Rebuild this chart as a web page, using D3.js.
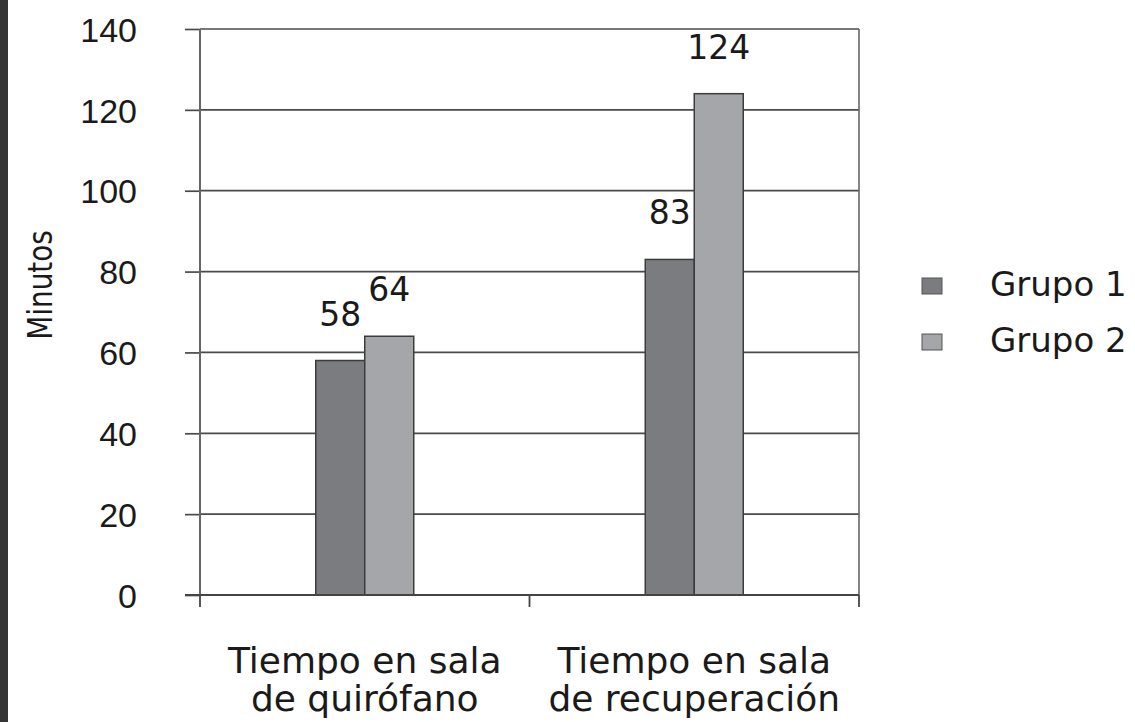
<!DOCTYPE html>
<html>
<head>
<meta charset="utf-8">
<script src="https://cdn.jsdelivr.net/npm/d3@7"></script>
<style>
  body { margin: 0; background: #fff; }
  svg { display: block; font-family: "DejaVu Sans", sans-serif; }
</style>
</head>
<body>
<div id="chart"></div>
<script>
const categories = [["Tiempo en sala", "de quirófano"], ["Tiempo en sala", "de recuperación"]];
const groups = ["Grupo 1", "Grupo 2"];
const grupo1 = [58, 83];
const grupo2 = [64, 124];
const yTicks = [0, 20, 40, 60, 80, 100, 120, 140];
const colors = ["#7b7c80", "#a5a6aa"];

const width = 1135;
const height = 722;
const margin = { top: 29, right: 276, bottom: 127, left: 200 };

const svg = d3.select("#chart").append("svg")
  .attr("width", width)
  .attr("height", height);

// dark strip on the left edge
svg.append("rect").attr("x", 0).attr("y", 0).attr("width", 8).attr("height", height).attr("fill", "#353535");

const x0 = d3.scaleBand()
  .domain(d3.range(categories.length))
  .range([margin.left, width - margin.right])
  .padding(0);

const barW = 49;
const x1 = d3.scaleBand()
  .domain(groups)
  .range([x0.bandwidth() / 2 - barW, x0.bandwidth() / 2 + barW]);

const y = d3.scaleLinear()
  .domain([0, 140])
  .range([height - margin.bottom, margin.top]);

// gridlines + y axis
const yAxis = svg.append("g")
  .attr("transform", `translate(${margin.left},0)`)
  .call(d3.axisLeft(y).tickValues(yTicks).tickSize(15).tickPadding(48).tickSizeOuter(0));
yAxis.select(".domain").remove();
yAxis.selectAll(".tick line").attr("stroke", "#4a4a4a").attr("stroke-width", 1.7);
yAxis.selectAll(".tick text")
  .attr("fill", "#1a1a1a")
  .style("font-size", "34px")
  .attr("dy", "0.36em");

svg.append("g")
  .selectAll("line")
  .data(yTicks)
  .join("line")
  .attr("x1", margin.left)
  .attr("x2", width - margin.right)
  .attr("y1", d => y(d))
  .attr("y2", d => y(d))
  .attr("stroke", "#4a4a4a")
  .attr("stroke-width", 1.7);

// frame left/right
svg.append("line")
  .attr("x1", margin.left).attr("x2", margin.left)
  .attr("y1", y(140)).attr("y2", y(0))
  .attr("stroke", "#666").attr("stroke-width", 2);
svg.append("line")
  .attr("x1", width - margin.right).attr("x2", width - margin.right)
  .attr("y1", y(140)).attr("y2", y(0))
  .attr("stroke", "#666").attr("stroke-width", 1.6);

// bars
const rows = categories.map((c, i) => ({ i, values: [grupo1[i], grupo2[i]] }));

const cat = svg.append("g")
  .selectAll("g")
  .data(rows)
  .join("g")
  .attr("transform", d => `translate(${x0(d.i)},0)`);

cat.selectAll("rect")
  .data(d => d.values.map((v, k) => ({ key: groups[k], k, v })))
  .join("rect")
  .attr("x", d => x1(d.key))
  .attr("y", d => y(d.v))
  .attr("width", x1.bandwidth())
  .attr("height", d => y(0) - y(d.v))
  .attr("fill", d => colors[d.k])
  .attr("stroke", "#3c3c3c")
  .attr("stroke-width", 1.5);

cat.selectAll("text")
  .data(d => d.values.map((v, k) => ({ key: groups[k], k, v })))
  .join("text")
  .attr("x", d => x1(d.key) + x1.bandwidth() / 2)
  .attr("y", d => y(d.v) - 35)
  .attr("text-anchor", "middle")
  .attr("fill", "#1a1a1a")
  .style("font-size", "33px")
  .text(d => d.v);

// x axis
const xAxis = svg.append("g")
  .attr("transform", `translate(0,${y(0)})`);
xAxis.append("line")
  .attr("x1", margin.left - 15).attr("x2", width - margin.right)
  .attr("stroke", "#444").attr("stroke-width", 1.8);
xAxis.selectAll(".sep")
  .data(d3.range(categories.length + 1))
  .join("line")
  .attr("class", "sep")
  .attr("x1", d => margin.left + d * x0.bandwidth())
  .attr("x2", d => margin.left + d * x0.bandwidth())
  .attr("y1", 0).attr("y2", 12)
  .attr("stroke", "#444").attr("stroke-width", 1.8);

xAxis.selectAll(".cat")
  .data(categories)
  .join("text")
  .attr("class", "cat")
  .attr("x", (d, i) => x0(i) + x0.bandwidth() / 2)
  .attr("y", 78)
  .attr("text-anchor", "middle")
  .attr("fill", "#1a1a1a")
  .style("font-size", "36px")
  .selectAll("tspan")
  .data(d => d)
  .join("tspan")
  .attr("x", function () { return this.parentNode.getAttribute("x"); })
  .attr("dy", (d, i) => i === 0 ? 0 : 38)
  .text(d => d);

// y label
svg.append("text")
  .attr("transform", "translate(52,285) rotate(-90) scale(0.82,1)")
  .attr("text-anchor", "middle")
  .attr("fill", "#1a1a1a")
  .style("font-size", "34px")
  .text("Minutos");

// legend
const legend = svg.append("g")
  .selectAll("g")
  .data(groups)
  .join("g")
  .attr("transform", (d, i) => `translate(922,${278 + i * 56})`);
legend.append("rect")
  .attr("width", 20).attr("height", 16)
  .attr("fill", (d, i) => colors[i])
  .attr("stroke", "#555").attr("stroke-width", 1);
legend.append("text")
  .attr("x", 68)
  .attr("y", 18)
  .attr("fill", "#1a1a1a")
  .style("font-size", "34px")
  .text(d => d);
</script>
</body>
</html>
